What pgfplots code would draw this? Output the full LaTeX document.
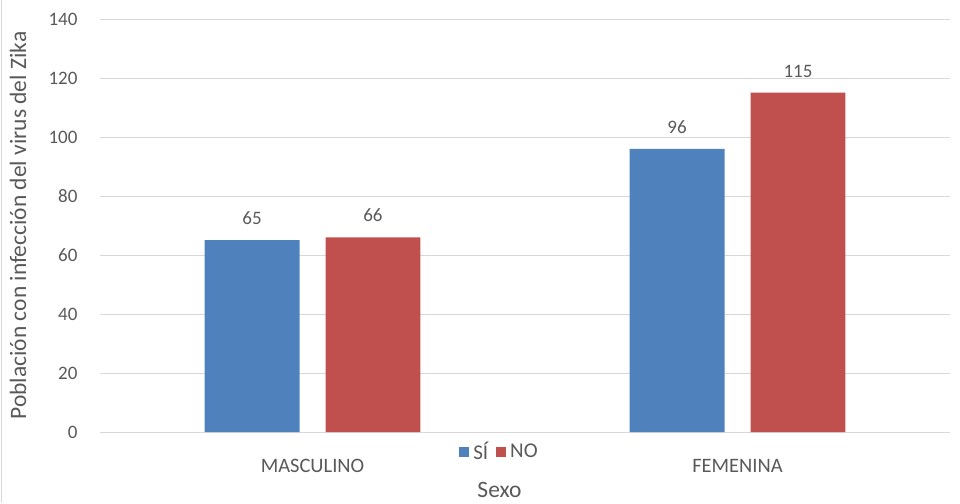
\documentclass[border=0pt]{standalone}
\usepackage{pgfplots}
\pgfplotsset{compat=1.18}
\usepackage{fontspec}
\setmainfont{Carlito}
\definecolor{cblue}{HTML}{4F81BD}
\definecolor{cred}{HTML}{C0504D}
\definecolor{ctext}{HTML}{595959}
\definecolor{cgrid}{HTML}{D9D9D9}
\begin{document}
\begin{tikzpicture}[x=1pt,y=1pt]
\useasboundingbox (-100,-71) rectangle (860,432);
\draw[cgrid, line width=1pt] (-98,-71) -- (-98,432);
\begin{axis}[
  at={(0pt,0pt)}, anchor=south west,
  scale only axis, width=850pt, height=413pt,
  xmin=-0.5, xmax=1.5, ymin=0, ymax=140,
  ybar=26pt, bar width=0.2235,
  xtick={0,1}, xticklabels={MASCULINO,FEMENINA},
  ytick={0,20,...,140},
  major tick length=0pt,
  ymajorgrids, grid style={cgrid, line width=0.8pt},
  axis x line*=bottom, axis y line*=left,
  x axis line style={cgrid, line width=1pt, -},
  y axis line style={draw=none},
  yticklabel style={font=\fontsize{19}{22}\selectfont, text=ctext, xshift=-19pt},
  xticklabel style={font=\fontsize{20.5}{24}\selectfont, text=ctext, yshift=-24pt},
  /pgf/number format/assume math mode=true,
  xlabel={Sexo}, ylabel={Población con infección del virus del Zika},
  label style={font=\fontsize{23.5}{27}\selectfont, text=ctext},
  xlabel style={at={(axis description cs:0.47,-0.1404)}, anchor=center},
  ylabel style={at={(axis description cs:-0.0965,0.5)}, anchor=center},
  nodes near coords,
  nodes near coords style={font=\fontsize{19}{22}\selectfont, text=ctext, yshift=12pt},
  legend style={draw=none, fill=none, at={(axis description cs:0.47,-0.048)}, anchor=center,
    font=\fontsize{21}{24}\selectfont, text=ctext, legend columns=2,
    inner sep=0pt, outer sep=0pt,
    /tikz/every odd column/.append style={column sep=2pt},
    /tikz/every even column/.append style={column sep=6pt}},
  legend image code/.code={\fill[#1] (0pt,-5pt) rectangle (10pt,5pt);},
]
\addplot[fill=cblue, draw=none] coordinates {(0,65) (1,96)};
\addplot[fill=cred, draw=none] coordinates {(0,66) (1,115)};
\legend{SÍ,NO}
\end{axis}
\end{tikzpicture}
\end{document}
